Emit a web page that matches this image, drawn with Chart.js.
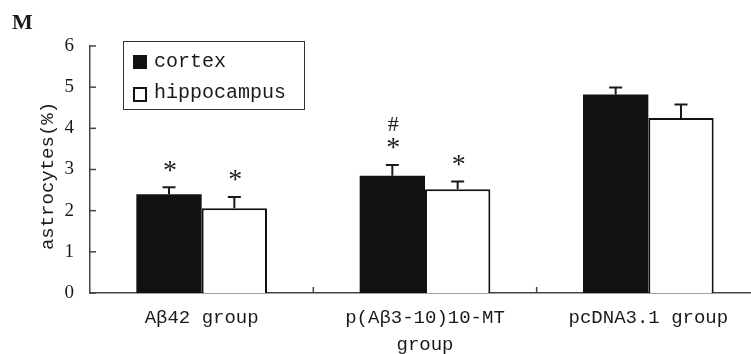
<!DOCTYPE html>
<html>
<head>
<meta charset="utf-8">
<script src="https://cdn.jsdelivr.net/npm/chart.js@4/dist/chart.umd.min.js"></script>
<style>
  html, body { margin: 0; padding: 0; background: #fff; overflow: hidden; }
  #wrap { width: 751px; height: 354px; overflow: hidden; }
</style>
</head>
<body>
<div id="wrap"><canvas id="chart" width="760" height="354"></canvas></div>
<script>
// data
const groups = ['A\u03b242 group', ['p(A\u03b23-10)10-MT', 'group'], 'pcDNA3.1 group'];
const cortex = [2.40, 2.85, 4.82];
const cortexErr = [0.17, 0.26, 0.17];
const hippocampus = [2.06, 2.52, 4.25];
const hippocampusErr = [0.27, 0.19, 0.33];
const yTicks = [0, 1, 2, 3, 4, 5, 6];
// significance marks: [group, series, text lines]
const marks = [
  [0, 0, ['*']],
  [0, 1, ['*']],
  [1, 0, ['#', '*']],
  [1, 1, ['*']]
];

const ink = '#1a1a1a';
const monoFont = '"Liberation Mono", "DejaVu Sans Mono", monospace';
const serifFont = '"Liberation Serif", "DejaVu Serif", serif';

// error bars, inward ticks, legend box, stars, panel letter
const extras = {
  id: 'extras',
  afterDatasetsDraw(chart) {
    const ctx = chart.ctx;
    const y = chart.scales.y;
    const x = chart.scales.x;
    const errs = [cortexErr, hippocampusErr];
    ctx.save();
    ctx.strokeStyle = ink;
    ctx.lineWidth = 2;
    chart.data.datasets.forEach((ds, i) => {
      chart.getDatasetMeta(i).data.forEach((bar, j) => {
        const top = y.getPixelForValue(ds.data[j] + errs[i][j]);
        ctx.beginPath();
        ctx.moveTo(bar.x, bar.y);
        ctx.lineTo(bar.x, top);
        ctx.moveTo(bar.x - 6.5, top);
        ctx.lineTo(bar.x + 6.5, top);
        ctx.stroke();
      });
    });

    // tick marks pointing into the plot
    ctx.strokeStyle = '#444';
    ctx.lineWidth = 1.5;
    yTicks.forEach(v => {
      const py = y.getPixelForValue(v);
      ctx.beginPath();
      ctx.moveTo(y.right, py);
      ctx.lineTo(y.right + 6, py);
      ctx.stroke();
    });
    for (let k = 0; k < groups.length - 1; k++) {
      const px = (x.getPixelForValue(k) + x.getPixelForValue(k + 1)) / 2;
      ctx.beginPath();
      ctx.moveTo(px, x.top);
      ctx.lineTo(px, x.top - 6);
      ctx.stroke();
    }

    // stars and hashes
    ctx.fillStyle = ink;
    ctx.textAlign = 'center';
    ctx.textBaseline = 'middle';
    ctx.font = '28px ' + serifFont;
    marks.forEach(m => {
      const [g, s, lines] = m;
      const bar = chart.getDatasetMeta(s).data[g];
      const val = chart.data.datasets[s].data[g] + errs[s][g];
      let py = y.getPixelForValue(val) - 20;
      for (let n = lines.length - 1; n >= 0; n--) {
        ctx.font = (lines[n] === '#' ? '22px ' : '28px ') + serifFont;
        ctx.fillText(lines[n], bar.x + 1, py + 4);
        py -= 24;
      }
    });

    // legend box
    ctx.lineWidth = 1;
    ctx.strokeStyle = '#333';
    ctx.strokeRect(123.5, 41.5, 181, 68);
    ctx.fillStyle = '#111';
    ctx.fillRect(133, 55, 14, 14);
    ctx.lineWidth = 2;
    ctx.strokeStyle = '#111';
    ctx.strokeRect(134, 88, 12, 13);
    ctx.fillStyle = ink;
    ctx.textAlign = 'left';
    ctx.textBaseline = 'alphabetic';
    ctx.font = '20px ' + monoFont;
    ctx.fillText(chart.data.datasets[0].label, 154, 67);
    ctx.fillText(chart.data.datasets[1].label, 154, 98);

    // y title
    ctx.save();
    ctx.translate(53, 176);
    ctx.rotate(-Math.PI / 2);
    ctx.textAlign = 'center';
    ctx.font = '19px ' + monoFont;
    ctx.fillText('astrocytes(%)', 0, 0);
    ctx.restore();

    // panel letter
    ctx.font = 'bold 22px ' + serifFont;
    ctx.fillText('M', 12, 29);
    ctx.restore();
  }
};

new Chart(document.getElementById('chart'), {
  type: 'bar',
  data: {
    labels: groups,
    datasets: [
      {
        label: 'cortex',
        data: cortex,
        backgroundColor: '#111',
        borderColor: '#111',
        borderWidth: 0
      },
      {
        label: 'hippocampus',
        data: hippocampus,
        backgroundColor: '#fff',
        borderColor: '#111',
        borderWidth: 2,
        borderSkipped: 'bottom'
      }
    ]
  },
  options: {
    responsive: false,
    animation: false,
    devicePixelRatio: 1,
    categoryPercentage: 0.585,
    barPercentage: 1,
    layout: { padding: { top: 46, left: 0, right: 0, bottom: 0 } },
    plugins: {
      legend: { display: false },
      tooltip: { enabled: false }
    },
    scales: {
      x: {
        grid: { display: false },
        border: { display: true, color: '#444', width: 1.5 },
        afterFit(scale) { scale.height = 61; },
        ticks: {
          color: ink,
          padding: 3,
          maxRotation: 0,
          autoSkip: false,
          font: { family: monoFont, size: 19, lineHeight: 1.42 }
        }
      },
      y: {
        min: 0,
        max: 6,
        grid: { display: false },
        border: { display: true, color: '#444', width: 1.5 },
        afterFit(scale) { scale.width = 90; },
        afterBuildTicks(scale) { scale.ticks = yTicks.map(v => ({ value: v })); },
        ticks: {
          color: ink,
          padding: 8,
          font: { family: serifFont, size: 19 }
        }
      }
    }
  },
  plugins: [extras]
});
</script>
</body>
</html>
